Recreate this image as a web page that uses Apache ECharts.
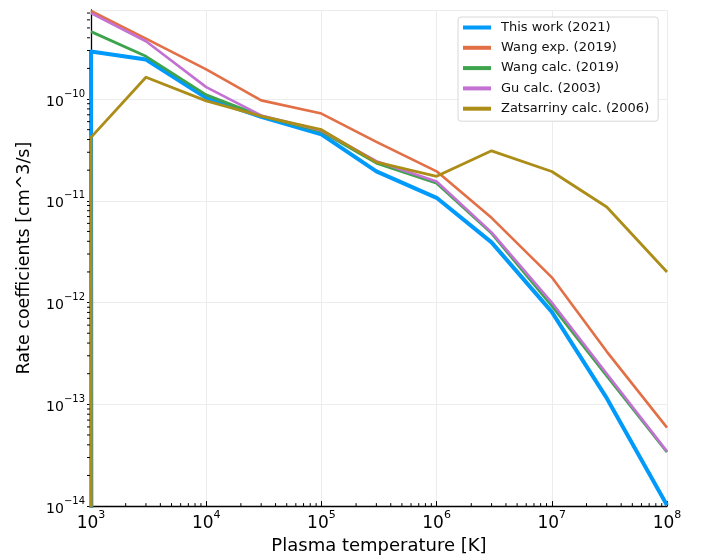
<!DOCTYPE html>
<html><head><meta charset="utf-8">
<script src="https://cdn.jsdelivr.net/npm/echarts@6/dist/echarts.min.js"></script>
<style>html,body{margin:0;padding:0;background:#fff}#c{width:703px;height:560px}</style>
</head><body><div id="c"></div>
<script>
// ---- data ----
const temperatures = [1e3, 3e3, 1e4, 3e4, 1e5, 3e5, 1e6, 3e6, 1e7, 3e7, 1e8];
const seriesNames = ['This work (2021)', 'Wang exp. (2019)', 'Wang calc. (2019)', 'Gu calc. (2003)', 'Zatsarriny calc. (2006)'];
const thisWork = [2.93e-10, 2.45e-10, 1.03e-10, 6.7e-11, 4.5e-11, 1.95e-11, 1.07e-11, 3.9e-12, 8.1e-13, 1.15e-13, 1.02e-14];
const wangExp  = [7.35e-10, 3.93e-10, 1.96e-10, 9.7e-11, 7.2e-11, 3.8e-11, 1.95e-11, 6.8e-12, 1.77e-12, 3.3e-13, 5.9e-14];
const wangCalc = [4.6e-10, 2.63e-10, 1.1e-10, 6.8e-11, 4.8e-11, 2.35e-11, 1.49e-11, 4.8e-12, 9.3e-13, 1.9e-13, 3.4e-14];
const guCalc   = [7.0e-10, 3.7e-10, 1.31e-10, 6.9e-11, 4.9e-11, 2.45e-11, 1.55e-11, 4.9e-12, 1.0e-12, 2.0e-13, 3.45e-14];
const zatsCalc = [4.2e-11, 1.64e-10, 9.6e-11, 6.8e-11, 5.0e-11, 2.4e-11, 1.74e-11, 3.1e-11, 1.94e-11, 8.7e-12, 2.0e-12];
// off-scale leading value seen in the reference (vertical drop at 10^3), per series (null = none)
const offScaleStart = [1e-16, null, null, null, 1e-16];
const xMin = 1e3, xMax = 1e8;
const yMin = 1e-14, yMax = 7.5e-10;
const minorMultipliers = [2, 3, 4, 5, 6, 7, 8, 9];
const xDecades = [1e3, 1e4, 1e5, 1e6, 1e7];
const yDecades = [1e-14, 1e-13, 1e-12, 1e-11, 1e-10];

const allSeries = [thisWork, wangExp, wangCalc, guCalc, zatsCalc];
const colors = ['#009AFA', '#E26F46', '#3DA44D', '#C371D2', '#AC8D18'];
const widths = [4, 2.6, 2.8, 2.6, 2.8];

const xMinor = [];
xDecades.forEach(d => minorMultipliers.forEach(m => xMinor.push(m * d)));
const yMinor = [];
yDecades.forEach(d => minorMultipliers.forEach(m => { if (m * d <= yMax) yMinor.push(m * d); }));

function powLabel(v) {
  const l = Math.log10(v);
  const e = Math.round(l);
  if (Math.abs(l - e) > 1e-6) return '';
  const es = e < 0 ? '\u2212' + (-e) : String(e);
  return '{b|10}{s|' + es + '}';
}

function minorSeries(axis, values) {
  return {
    type: 'custom', silent: true, z: 5, clip: false,
    data: values.map(v => axis === 'x' ? [v, yMin] : [xMin, v]),
    renderItem(params, api) {
      const p = api.coord([api.value(0), api.value(1)]);
      const len = 3;
      const shape = axis === 'x'
        ? { x1: p[0], y1: p[1], x2: p[0], y2: p[1] - len }
        : { x1: p[0] - 1, y1: p[1], x2: p[0] - 1 - len, y2: p[1] };
      return { type: 'line', shape, style: { stroke: '#000', lineWidth: 1 } };
    }
  };
}

const font = 'DejaVu Sans';
const lineSeries = allSeries.map((vals, i) => {
  let data = temperatures.map((t, j) => [t, vals[j]]);
  if (offScaleStart[i] !== null) data = [[temperatures[0] * 1.01, offScaleStart[i]]].concat(data);
  return {
    name: seriesNames[i],
    type: 'line',
    showSymbol: false,
    symbol: 'none',
    data,
    lineStyle: { color: colors[i], width: widths[i], join: 'round' },
    itemStyle: { color: colors[i] },
    z: 2 + i * 0.01
  };
});

const chart = echarts.init(document.getElementById('c'), null, { renderer: 'canvas' });
chart.setOption({
  animation: false,
  backgroundColor: '#fff',
  textStyle: { fontFamily: font },
  grid: { left: 91, right: 36, top: 10, bottom: 49, containLabel: false },
  legend: {
    data: seriesNames,
    orient: 'vertical',
    left: 458, top: 17,
    padding: [3, 9, 5, 5],
    itemWidth: 28, itemHeight: 4,
    itemGap: 5.3,
    icon: 'rect',
    backgroundColor: '#fff',
    borderColor: '#d8d8d8', borderWidth: 1, borderRadius: 3,
    textStyle: { fontFamily: font, fontSize: 13, color: '#111', lineHeight: 15, padding: [0, 0, 0, 5] }
  },
  xAxis: {
    type: 'log', logBase: 10, min: xMin, max: xMax,
    name: 'Plasma temperature [K]', nameLocation: 'middle', nameGap: 28,
    nameTextStyle: { fontFamily: font, fontSize: 18, color: '#000' },
    axisLine: { onZero: false, lineStyle: { color: '#000', width: 1.3 } },
    axisTick: { inside: true, length: 5, lineStyle: { color: '#000' } },
    splitLine: { show: true, lineStyle: { color: '#ececec', width: 1 } },
    axisLabel: {
      margin: 4, color: '#000', formatter: powLabel,
      rich: {
        b: { fontFamily: font, fontSize: 17, lineHeight: 22, verticalAlign: 'bottom', color: '#000' },
        s: { fontFamily: font, fontSize: 11, lineHeight: 13, verticalAlign: 'top', color: '#000' }
      }
    }
  },
  yAxis: {
    type: 'log', logBase: 10, min: yMin, max: yMax,
    name: 'Rate coefficients [cm^3/s]', nameLocation: 'middle', nameGap: 58,
    nameTextStyle: { fontFamily: font, fontSize: 17.5, color: '#000' },
    axisLine: { onZero: false, lineStyle: { color: '#000', width: 1.3 } },
    axisTick: { inside: false, length: 4, lineStyle: { color: '#000' } },
    splitLine: { show: true, lineStyle: { color: '#ececec', width: 1 } },
    axisLabel: {
      margin: 6, color: '#000', formatter: powLabel, showMaxLabel: false,
      rich: {
        b: { fontFamily: font, fontSize: 14, lineHeight: 20, verticalAlign: 'bottom', color: '#000' },
        s: { fontFamily: font, fontSize: 10, lineHeight: 12, verticalAlign: 'top', color: '#000' }
      }
    }
  },
  series: lineSeries.concat([minorSeries('x', xMinor), minorSeries('y', yMinor)])
});
</script>
</body></html>
